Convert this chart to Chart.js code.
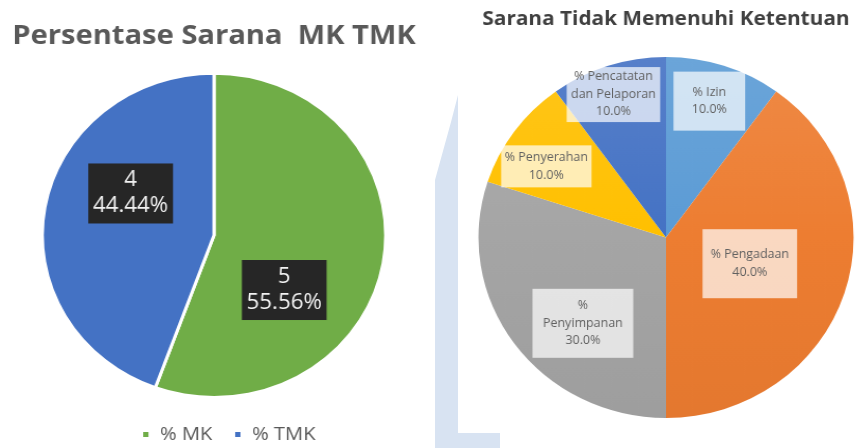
<!DOCTYPE html>
<html>
<head>
<meta charset="utf-8">
<title>Persentase Sarana</title>
<script src="https://cdn.jsdelivr.net/npm/chart.js@4.4.1/dist/chart.umd.min.js"></script>
<style>
  html, body { margin: 0; padding: 0; background: #fff; }
  body { width: 857px; height: 448px; position: relative; overflow: hidden; }
  .panel { position: absolute; top: 0; height: 448px; }
  /* both pies are slightly wider than tall */
  #panelMk { left: 8.5px; width: 410px; transform: scaleX(1.059); }
  #panelStk { left: 476px; width: 380px; transform: scaleX(1.039); }
  .band {
    position: absolute; left: 435px; top: 0; width: 65px; height: 448px;
    background: #d8e3f2;
    clip-path: polygon(0px 180px, 16px 122px, 23px 95px, 23px 433px, 65px 433px, 65px 448px, 0px 448px);
  }
</style>
</head>
<body>
<div class="band"></div>
<div class="panel" id="panelMk"><canvas id="mkChart"></canvas></div>
<div class="panel" id="panelStk"><canvas id="stkChart"></canvas></div>

<script>
// --- data ---
const mkLabels = ['% MK', '% TMK'];
const mkCounts = [5, 4];

const stkLabels = ['% Izin', '% Pengadaan', '% Penyimpanan', '% Penyerahan', '% Pencatatan dan Pelaporan'];
const stkValues = [10, 40, 30, 10, 10];
const stkColors = ['#5b9bd5', '#ed7d31', '#a5a5a5', '#ffc000', '#4472c4'];

// --- label placement (angle nudge in degrees, distance as share of radius, box size, wrap width) ---
const mkLabelLayout = [
  { turn: 29.5, dist: 0.53, w: 80, h: 60 },
  { turn: 18, dist: 0.55, w: 80, h: 60 }
];
const stkLabelLayout = [
  { turn: -1, dist: 0.79, w: 69, h: 59, wrap: 66 },
  { turn: 0, dist: 0.47, w: 91, h: 69, wrap: 88 },
  { turn: -11, dist: 0.65, w: 97, h: 69, wrap: 80 },
  { turn: -4.3, dist: 0.75, w: 87, h: 42, wrap: 85 },
  { turn: -1.5, dist: 0.84, w: 90, h: 55, wrap: 88 }
];

const mix = (hex, target, t) => {
  const n = parseInt(hex.slice(1), 16);
  const c = [(n >> 16) & 255, (n >> 8) & 255, n & 255];
  return 'rgb(' + c.map(v => Math.round(v + (target - v) * t)).join(',') + ')';
};

// soft top-to-bottom shading for each slice colour
const shadedSlice = (ctx) => {
  const base = stkColors[ctx.dataIndex];
  const area = ctx.chart.chartArea;
  if (!area || base === undefined) return base;
  const g = ctx.chart.ctx.createLinearGradient(0, area.top, 0, area.bottom);
  g.addColorStop(0, mix(base, 255, 0.1));
  g.addColorStop(0.5, base);
  g.addColorStop(1, mix(base, 0, 0.04));
  return g;
};

const wrapText = (ctx, text, maxW) => {
  const words = text.split(' ');
  const lines = [];
  let line = '';
  words.forEach(w => {
    const test = line ? line + ' ' + w : w;
    if (line && ctx.measureText(test).width > maxW) {
      lines.push(line);
      line = w;
    } else {
      line = test;
    }
  });
  lines.push(line);
  return lines;
};

// boxed labels drawn at each slice
const sliceLabels = {
  id: 'sliceLabels',
  afterDatasetsDraw(chart, args, opts) {
    const { ctx } = chart;
    const meta = chart.getDatasetMeta(0);
    const values = chart.data.datasets[0].data;
    const total = values.reduce((a, b) => a + b, 0);
    ctx.save();
    ctx.font = opts.font;
    ctx.textAlign = 'center';
    ctx.textBaseline = 'middle';
    meta.data.forEach((arc, i) => {
      const { x, y, startAngle, endAngle, outerRadius } =
        arc.getProps(['x', 'y', 'startAngle', 'endAngle', 'outerRadius'], true);
      const lay = opts.layout[i];
      const mid = (startAngle + endAngle) / 2 + lay.turn * Math.PI / 180;
      const cx = x + Math.cos(mid) * outerRadius * lay.dist;
      const cy = y + Math.sin(mid) * outerRadius * lay.dist;
      const lines = opts.lines(ctx, chart.data.labels[i], values[i], total, lay);

      ctx.fillStyle = opts.boxColor;
      ctx.fillRect(cx - lay.w / 2, cy - lay.h / 2, lay.w, lay.h);

      ctx.fillStyle = opts.color;
      const top = cy - (lines.length - 1) * opts.lineHeight / 2;
      lines.forEach((t, k) => ctx.fillText(t, cx, top + k * opts.lineHeight));
    });
    ctx.restore();
  }
};

// lets the legend sit a little off the pie's centre line
const legendNudge = {
  id: 'legendNudge',
  afterLayout(chart, args, opts) {
    const lg = chart.legend;
    if (!lg) return;
    lg.left += opts.x; lg.right += opts.x;
    lg.top += opts.y; lg.bottom += opts.y;
  }
};

new Chart(document.getElementById('mkChart'), {
  type: 'pie',
  data: {
    labels: mkLabels,
    datasets: [{
      data: mkCounts,
      backgroundColor: ['#70ad47', '#4472c4'],
      borderColor: '#ffffff',
      borderWidth: 3
    }]
  },
  options: {
    responsive: true,
    maintainAspectRatio: false,
    animation: false,
    layout: { padding: 0 },
    plugins: {
      title: {
        display: true,
        text: 'Persentase Sarana  MK TMK',
        color: '#595959',
        font: { family: '"Open Sans"', size: 27.5, weight: 'bold' },
        padding: { top: 19.3, bottom: 19.4 }
      },
      legend: {
        position: 'bottom',
        labels: {
          color: '#595959',
          font: { family: '"Open Sans"', size: 19 },
          boxWidth: 8,
          boxHeight: 8,
          padding: 20
        }
      },
      tooltip: { enabled: false },
      legendNudge: { x: 13.7, y: 6 },
      sliceLabels: {
        font: '21px "Open Sans"',
        color: '#f2f2f2',
        boxColor: '#262626',
        lineHeight: 26,
        layout: mkLabelLayout,
        lines: (ctx, label, v, total) => [String(v), (v / total * 100).toFixed(2) + '%']
      }
    }
  },
  plugins: [sliceLabels, legendNudge]
});

new Chart(document.getElementById('stkChart'), {
  type: 'pie',
  data: {
    labels: stkLabels,
    datasets: [{
      data: stkValues,
      backgroundColor: shadedSlice,
      borderWidth: 0
    }]
  },
  options: {
    responsive: true,
    maintainAspectRatio: false,
    animation: false,
    layout: { padding: { bottom: 30 } },
    plugins: {
      title: {
        display: true,
        text: 'Sarana Tidak Memenuhi Ketentuan',
        color: '#3f3f3f',
        font: { family: '"Open Sans"', size: 20, weight: 'bold' },
        padding: { top: 7.5, bottom: 25.5 }
      },
      legend: { display: false },
      tooltip: { enabled: false },
      sliceLabels: {
        font: '12px "Open Sans"',
        color: '#606060',
        boxColor: 'rgba(255, 255, 255, 0.7)',
        lineHeight: 17.5,
        layout: stkLabelLayout,
        lines: (ctx, label, v, total, lay) =>
          wrapText(ctx, label, lay.wrap).concat((v / total * 100).toFixed(1) + '%')
      }
    }
  },
  plugins: [sliceLabels]
});
</script>
</body>
</html>
